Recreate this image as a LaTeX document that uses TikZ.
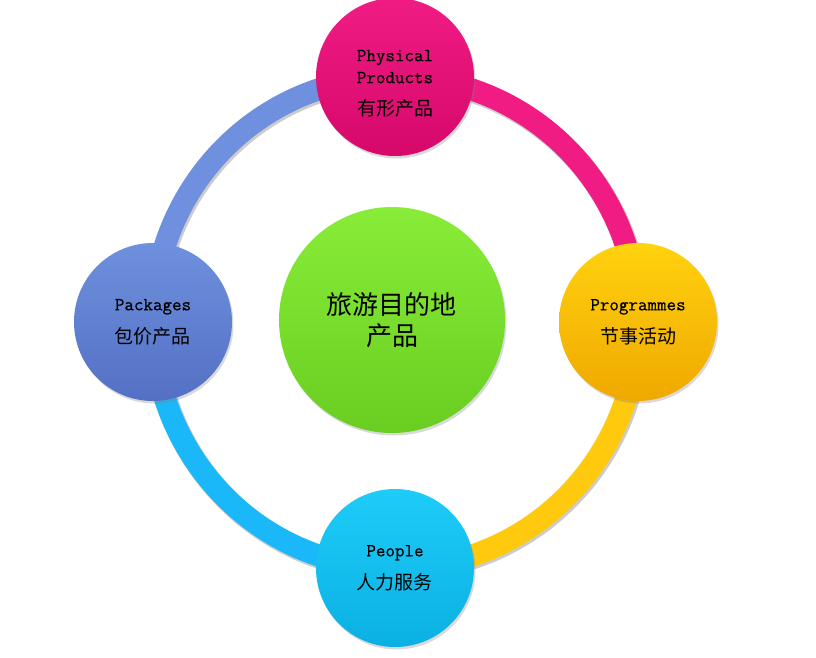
\documentclass[tikz,border=0pt]{standalone}
\usepackage{fontspec}
\newfontfamily\cjk{Noto Sans CJK SC}
\newfontfamily\engmono[FakeBold=0.6]{Latin Modern Mono}
\usetikzlibrary{shadows,backgrounds}
\definecolor{pinkTop}{RGB}{240,28,132}
\definecolor{pinkBot}{RGB}{214,8,106}
\definecolor{goldTop}{RGB}{255,210,14}
\definecolor{goldBot}{RGB}{240,168,0}
\definecolor{blueTop}{RGB}{110,144,222}
\definecolor{blueBot}{RGB}{84,112,196}
\definecolor{cyanTop}{RGB}{30,204,248}
\definecolor{cyanBot}{RGB}{10,176,226}
\definecolor{limeTop}{RGB}{136,236,56}
\definecolor{limeBot}{RGB}{106,206,34}
\newcommand{\zhtext}[1]{{\cjk\fontsize{19}{22}\selectfont #1}}
\begin{document}
\begin{tikzpicture}[x=1pt, y=1pt, ball/.style={circle, minimum size=158pt, inner sep=0pt, align=center, font=\fontsize{18.5}{22}\selectfont\engmono, drop shadow={opacity=0.3, shadow xshift=1.5pt, shadow yshift=-2.5pt}}, hub/.style={ball, minimum size=226pt, font=\cjk\fontsize{26}{31}\selectfont}, ring/.style={line width=22pt, preaction={draw=black!20, line width=23pt, transform canvas={shift={(1.5pt,-2pt)}}}}]
	\useasboundingbox (-395,-335) rectangle (421,322);
	\node[ball, top color=pinkTop, bottom color=pinkBot] (phys) at (0,245) {\rule{0pt}{24pt}Physical\\Products\\[10pt]\zhtext{有形产品}};
	\node[ball, top color=goldTop, bottom color=goldBot] (prog) at (243,0) {Programmes\\[11pt]\zhtext{节事活动}};
	\node[ball, top color=cyanTop, bottom color=cyanBot] (ppl) at (0,-246) {People\\[11pt]\zhtext{人力服务}};
	\node[ball, top color=blueTop, bottom color=blueBot] (pkg) at (-242,0) {Packages\\[11pt]\zhtext{包价产品}};
	\node[hub, top color=limeTop, bottom color=limeBot] (dest) at (-3,2) {旅游目的地\\产品};
	\begin{pgfonlayer}{background}
		\draw[ring, draw=blueTop] (pkg.center) to[out=90, in=180] (phys.center);
		\draw[ring, draw=pinkTop] (phys.center) to[out=0, in=90] (prog.center);
		\draw[ring, draw=goldTop!90!orange] (prog.center) to[out=-90, in=0] (ppl.center);
		\draw[ring, draw=cyanTop!90!blue] (ppl.center) to[out=180, in=-90] (pkg.center);
	\end{pgfonlayer}
\end{tikzpicture}
\end{document}
